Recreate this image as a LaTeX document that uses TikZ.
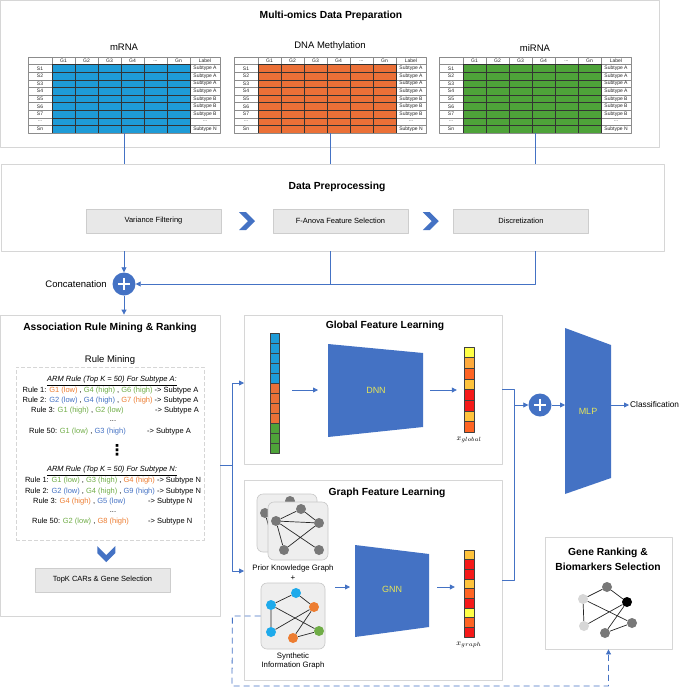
\documentclass[tikz,border=0pt]{standalone}
\usepackage{fontspec}
\setmainfont{Liberation Sans}
\newfontfamily\symfont{DejaVu Sans}
\usetikzlibrary{arrows.meta,positioning}

\definecolor{linkblue}{RGB}{68,114,196}
\definecolor{panelgray}{RGB}{214,214,214}
\definecolor{stepfill}{RGB}{232,232,232}
\definecolor{stepline}{RGB}{205,205,205}
\definecolor{mrnablue}{RGB}{30,155,215}
\definecolor{methorange}{RGB}{235,112,55}
\definecolor{mirgreen}{RGB}{78,163,57}
\definecolor{rulegreen}{RGB}{112,173,71}
\definecolor{ruleblue}{RGB}{68,114,196}
\definecolor{ruleorange}{RGB}{237,125,49}
\definecolor{netyellow}{RGB}{228,228,90}
\definecolor{cardfill}{RGB}{238,238,238}
\definecolor{cardline}{RGB}{200,200,200}
\definecolor{nodegray}{RGB}{120,120,120}
\definecolor{nodelight}{RGB}{215,215,215}
\definecolor{nodecyan}{RGB}{30,170,235}
\definecolor{vyellow}{RGB}{255,255,70}
\definecolor{vgold}{RGB}{255,195,60}
\definecolor{vlight}{RGB}{255,170,60}
\definecolor{vorange}{RGB}{255,100,35}
\definecolor{vred}{RGB}{245,25,25}

\newcommand{\grn}[1]{\textcolor{rulegreen}{#1}}
\newcommand{\blu}[1]{\textcolor{ruleblue}{#1}}
\newcommand{\org}[1]{\textcolor{ruleorange}{#1}}
\newcommand{\tdots}{...}

\tikzset{
  panel/.style={draw=panelgray, fill=white, line width=0.8pt, inner sep=0pt},
  heading/.style={font=\fontsize{10.3}{15}\selectfont\bfseries, align=center},
  caption/.style={font=\fontsize{9.5}{11}\selectfont},
  stepbox/.style={draw=stepline, fill=stepfill, line width=0.6pt, minimum width=135pt,
    minimum height=24pt, inner sep=0pt, font=\fontsize{7.5}{9}\selectfont},
  rulebox/.style={draw=panelgray, dash pattern=on 4pt off 2pt, line width=0.7pt, inner sep=0pt},
  link/.style={draw=linkblue, line width=0.8pt},
  rule/.style={font=\fontsize{7.5}{9}\selectfont, inner sep=0pt},
  celltext/.style={font=\fontsize{5}{5}\selectfont, inner sep=0pt, text=black!85},
  cellline/.style={draw=black!45, line width=0.3pt},
  gridline/.style={draw=black!80, line width=0.4pt},
  vcell/.style={draw=black!75, line width=0.4pt},
  sumnode/.style={circle, fill=linkblue, minimum size=23pt, inner sep=0pt,
    path picture={\draw[white, line width=2.2pt]
      ([xshift=-6pt]path picture bounding box.center) -- ([xshift=6pt]path picture bounding box.center)
      ([yshift=-6pt]path picture bounding box.center) -- ([yshift=6pt]path picture bounding box.center);}},
  netlabel/.style={text=netyellow, font=\fontsize{9}{10}\selectfont},
  card/.style={draw=cardline, fill=cardfill, rounded corners=6pt, line width=0.6pt, inner sep=0pt},
  gnode/.style={circle, minimum size=10pt, inner sep=0pt},
  edge/.style={draw=black!85, line width=0.7pt},
}

% omics table: name, left, top, colour
\newcommand{\omicstable}[4]{%
  \begin{scope}[shift={(#2,#3)}]
    \fill[#4] (24,7.6) rectangle (162,76);
    \foreach \r in {1,...,9}
      \draw[cellline] (0,\r*7.6) -- (24,\r*7.6) (162,\r*7.6) -- (192,\r*7.6);
    \foreach \r in {2,...,9}
      \draw[gridline] (24,\r*7.6) -- (162,\r*7.6);
    \foreach \c in {47,70,93,116,139}
      \draw[gridline] (\c,7.6) -- (\c,76);
    \foreach \c in {24,47,70,93,116,139,162}
      \draw[cellline] (\c,0) -- (\c,7.6);
    \draw[gridline] (24,7.6) rectangle (162,76);
    \draw[cellline] (0,0) rectangle (192,76);
    \foreach \t [count=\i] in {G1,G2,G3,G4,\tdots,Gn}
      \node[celltext] (#1-g\i) at (12.5+23*\i,3.8) {\t};
    \node[celltext] (#1-lab) at (177,3.8) {Label};
    \foreach \t [count=\i] in {S1,S2,S3,S4,S5,S6,S7,\tdots,Sn}
      \node[celltext] (#1-s\i) at (12,7.6*\i+3.8) {\t};
    \foreach \t [count=\i] in {Subtype A,Subtype A,Subtype A,Subtype A,Subtype B,Subtype B,Subtype B,\tdots,Subtype N}
      \node[celltext] (#1-y\i) at (177,7.6*\i+3.8) {\t};
    \node[inner sep=0pt, minimum width=192pt, minimum height=76pt] (#1) at (96,38) {};
  \end{scope}}

% small gene network: prefix
\newcommand{\priornet}[1]{%
  \node[gnode, fill=nodegray] (#1a) at (301,509) {};
  \node[gnode, fill=nodegray] (#1b) at (276,521) {};
  \node[gnode, fill=nodegray] (#1c) at (319,523) {};
  \node[gnode, fill=nodegray] (#1d) at (284,550) {};
  \node[gnode, fill=nodegray] (#1e) at (319,550) {};
  \draw[edge] (#1b) -- (#1a) -- (#1c) -- (#1b) -- (#1d) (#1b) -- (#1e) (#1c) -- (#1d);}

\begin{document}
\begin{tikzpicture}[x=1pt, y=-1pt, >={Triangle[length=5pt,width=5pt]}, line join=round]
\useasboundingbox (0,0) rectangle (685,689);

% data preparation
\node[panel, minimum width=659pt, minimum height=147pt] (data) at (330,74) {};
\node[heading] (datatitle) at (331,16) {Multi-omics Data Preparation};
\node[caption] (mrnalbl) at (124,47) {mRNA};
\node[caption] (dnamlbl) at (330,46) {DNA Methylation};
\node[caption] (mirnalbl) at (535,48) {miRNA};
\omicstable{mrna}{28}{57}{mrnablue}
\omicstable{dnam}{234}{57}{methorange}
\omicstable{mirna}{439}{57}{mirgreen}

% preprocessing
\node[panel, minimum width=663pt, minimum height=87pt] (prep) at (332.5,207.5) {};
\node[heading] (preptitle) at (337,187) {Data Preprocessing};
\node[stepbox] (varf) at (153.5,221) {Variance Filtering};
\node[stepbox] (anova) at (340.5,221) {F-Anova Feature Selection};
\node[stepbox] (disc) at (521,221) {Discretization};
\path (varf.east) -- (anova.west) coordinate[midway] (chev1);
\path (anova.east) -- (disc.west) coordinate[midway] (chev2);
\foreach \c in {chev1,chev2}
  \fill[linkblue] (\c) ++(-8,-9) -- ++(7,0) -- ++(9,9) -- ++(-9,9) -- ++(-7,0) -- ++(9,-9) -- cycle;

\foreach \t in {mrna,dnam,mirna}
  \draw[link] (\t.south) -- (\t.south |- prep.north);
\node[sumnode] (concat) at (124,284) {};
\node[caption, left=2pt of concat] (concatlbl) {Concatenation};
\draw[link,->] (mrna.south |- prep.south) -- (concat);
\draw[link] (dnam.south |- prep.south) -- (dnam.south |- concat.east);
\draw[link,->] (mirna.south |- prep.south) |- (concat);

% rule mining
\node[panel, minimum width=219.5pt, minimum height=301pt] (arm) at (110.25,465.5) {};
\draw[link,->] (concat) -- (concat |- arm.north);
\node[heading] (armtitle) at (110,328) {Association Rule Mining \& Ranking};
\node[caption] (rmlbl) at (110,360) {Rule Mining};
\node[rulebox, minimum width=188pt, minimum height=173pt] (rules) at (110,453.5) {};
\node[rule] (heada) at (112,381) {\underline{\textit{ARM Rule (Top K = 50) For Subtype A:}}};
\node[rule] (ra1) at (110.5,391) {Rule 1: \org{G1 (low)} , \grn{G4 (high)} , \grn{G6 (high)} -> Subtype A};
\node[rule] (ra2) at (110.5,401) {Rule 2: \blu{G2 (low)} , \blu{G4 (high)} , \org{G7 (high)} -> Subtype A};
\node[rule, anchor=west] (ra3) at (31,411) {Rule 3: \grn{G1 (high)} , \grn{G2 (low)}};
\node[rule, anchor=west] (ta3) at (155,411) {-> Subtype A};
\node[rule] (dotsa) at (113,421) {...};
\node[rule, anchor=west] (ra50) at (29,432) {Rule 50: \grn{G1 (low)} , \blu{G3 (high)}};
\node[rule, anchor=west] (ta50) at (147,432) {-> Subtype A};
\node[inner sep=0pt, font=\fontsize{15}{15}\selectfont\symfont\bfseries] (vdots) at (117,450) {⋮};
\node[rule] (headn) at (112,471) {\underline{\textit{ARM Rule (Top K = 50) For Subtype N:}}};
\node[rule] (rn1) at (113,481) {Rule 1: \grn{G1 (low)} , \grn{G3 (high)} , \org{G4 (high)} -> Subtype N};
\node[rule] (rn2) at (113,492) {Rule 2: \blu{G2 (low)} , \grn{G4 (high)} , \blu{G9 (high)} -> Subtype N};
\node[rule, anchor=west] (rn3) at (33,502) {Rule 3: \org{G4 (high)} , \blu{G5 (low)}};
\node[rule, anchor=west] (tn3) at (148,502) {-> Subtype N};
\node[rule] (dotsn) at (113,512) {...};
\node[rule, anchor=west] (rn50) at (32,522) {Rule 50: \grn{G2 (low)} , \org{G8 (high)}};
\node[rule, anchor=west] (tn50) at (148,522) {-> Subtype N};
\node[stepbox] (topk) at (102.5,580) {TopK CARs \& Gene Selection};
\path (rules.south) -- (topk.north) coordinate[midway] (chev3);
\fill[linkblue] (chev3) ++(-9,-8) -- ++(0,7) -- ++(9,9) -- ++(9,-9) -- ++(0,-7) -- ++(-9,9) -- cycle;

% global feature learning
\node[panel, minimum width=258pt, minimum height=149pt] (glob) at (373,389.5) {};
\node[heading] (globtitle) at (385,326) {Global Feature Learning};
\node[inner sep=0pt, minimum width=9pt, minimum height=120pt] (invec) at (274.5,393) {};
\foreach \c [count=\i from 0] in {mrnablue,mrnablue,mrnablue,mrnablue,mrnablue,methorange,methorange,methorange,methorange,mirgreen,mirgreen,mirgreen}
  \draw[vcell, fill=\c] (270,333+10*\i) rectangle ++(9,10);
\fill[linkblue] (328,344) -- (423,353) -- (423,427) -- (328,437) -- cycle;
\node[netlabel] (dnn) at (376,390) {DNN};
\path (328,390) coordinate (dnnL) (423,390) coordinate (dnnR);
\node[inner sep=0pt, minimum width=10pt, minimum height=85pt] (gvec) at (469,389.5) {};
\foreach \c [count=\i from 0] in {vyellow,vlight,vorange,vgold,vred,vred,vgold,vorange}
  \draw[vcell, fill=\c] (464,347+10.625*\i) rectangle ++(10,10.625);
\node[font=\fontsize{8}{9}\selectfont, below=1pt of gvec] (gveclbl) {$x_{global}$};
\draw[link,->,shorten <=13pt,shorten >=10pt] (invec.east |- dnnL) -- (dnnL);
\draw[link,->,shorten <=7pt,shorten >=7pt] (dnnR) -- (gvec.west |- dnnR);

% graph feature learning
\node[panel, minimum width=258pt, minimum height=200pt] (graph) at (373,580) {};
\node[heading] (graphtitle) at (387,493) {Graph Feature Learning};
\node[card, minimum width=60pt, minimum height=58pt] (priorback) at (287,523) {};
\begin{scope}[shift={(-11,-8)}]
  \priornet{pb}
\end{scope}
\node[card, minimum width=60pt, minimum height=58pt] (prior) at (298,531) {};
\priornet{pf}
\node[font=\fontsize{7.8}{9}\selectfont] (priorlbl) at (293,568) {Prior Knowledge Graph};
\node[font=\fontsize{8}{9}\selectfont] (plus) at (293,578) {+};
\node[card, minimum width=64pt, minimum height=66pt] (synth) at (293,616) {};
\node[gnode, fill=nodecyan] (sa) at (271,605) {};
\node[gnode, fill=nodecyan] (sb) at (296,593) {};
\node[gnode, fill=ruleorange] (sc) at (314,607) {};
\node[gnode, fill=nodecyan] (sd) at (271,632) {};
\node[gnode, fill=rulegreen] (se) at (319,631) {};
\node[gnode, fill=ruleorange] (sf) at (293,638) {};
\draw[edge] (sa) -- (sb) -- (sc) -- (sd) -- (sa) -- (se) -- (sf) -- (sc);
\node[font=\fontsize{7.8}{9.5}\selectfont, align=center] (synthlbl) at (293,661) {Synthetic\\Information Graph};
\fill[linkblue] (355,545) -- (429,554) -- (429,627) -- (355,637) -- cycle;
\node[netlabel] (gnn) at (392,589) {GNN};
\path (355,587) coordinate (gnnL) (429,587) coordinate (gnnR) (328,587) coordinate (cardsR);
\node[inner sep=0pt, minimum width=10pt, minimum height=87pt] (xvec) at (469,593.5) {};
\foreach \c [count=\i from 0] in {vgold,vred,vred,vgold,vorange,vred,vyellow,vorange,vred}
  \draw[vcell, fill=\c] (464,550+9.667*\i) rectangle ++(10,9.667);
\node[font=\fontsize{8}{9}\selectfont, below=1pt of xvec] (xveclbl) {$x_{graph}$};
\draw[link,->,shorten <=7pt,shorten >=5pt] (cardsR) -- (gnnL);
\draw[link,->,shorten <=8pt,shorten >=9pt] (gnnR) -- (xvec.west |- gnnR);

% rule mining output to both branches
\draw[link] (arm.east) -- ++(12,0) coordinate (split);
\path (244,383) coordinate (globin) (244,571) coordinate (graphin) (232,686) coordinate (dashturn);
\draw[link,->] (split) |- (globin);
\draw[link,->] (split) |- (graphin);

% fusion and classification
\fill[linkblue] (565,328) -- (611,345) -- (611,478) -- (565,494) -- cycle;
\node[netlabel] (mlp) at (588,411) {MLP};
\path (565,405) coordinate (mlpL) (611,405) coordinate (mlpR);
\node[sumnode] (fuse) at (540,405) {};
\draw[link] (glob.east) -- ++(12,0) coordinate (merge) |- (graph.east);
\draw[link,->] (merge |- fuse) -- (fuse);
\draw[link,->] (fuse) -- (mlpL);
\node[font=\fontsize{8.3}{10}\selectfont, anchor=west, inner sep=1pt] (cls) at (629,405) {Classification};
\draw[link,->] (mlpR) -- (cls);

% gene ranking
\node[panel, minimum width=127pt, minimum height=112pt] (gene) at (608.5,593) {};
\node[heading] (genetitle) at (608,559.5) {Gene Ranking \&\\Biomarkers Selection};
\node[gnode, fill=nodelight] (ga) at (583,599) {};
\node[gnode, fill=nodegray] (gb) at (607,587) {};
\node[gnode, fill=black] (gc) at (627,602) {};
\node[gnode, fill=nodelight] (gd) at (584,626) {};
\node[gnode, fill=nodegray] (ge) at (632,623) {};
\node[gnode, fill=nodegray] (gf) at (605,633) {};
\draw[edge] (ga) -- (gb) -- (gc) -- (gd) -- (ga) -- (ge) -- (gf) -- (gc);
\draw[link,dash pattern=on 6pt off 4pt,->] (synth) -- (split |- synth) -- (dashturn) -| (gene);
\end{tikzpicture}
\end{document}
